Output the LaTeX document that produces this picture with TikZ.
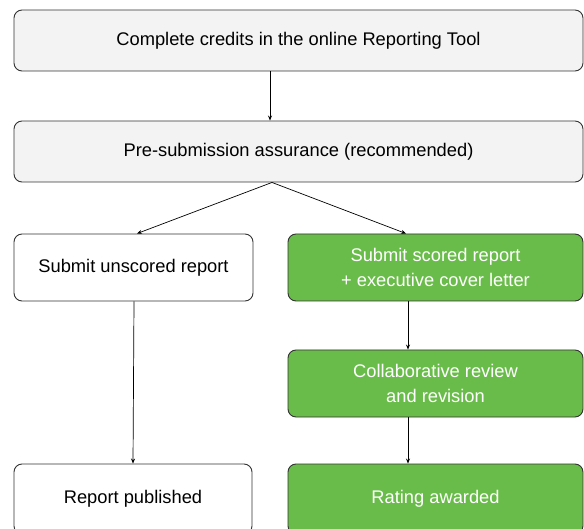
\documentclass[tikz,border=0pt]{standalone}
\usepackage{fontspec}
\setmainfont{Liberation Sans}
\usetikzlibrary{arrows.meta}
\definecolor{boxgray}{HTML}{F3F3F3}
\definecolor{boxgreen}{HTML}{6ABC4A}
\definecolor{edge}{HTML}{333333}
\tikzset{
  box/.style={draw=edge, line width=0.9pt, rounded corners=8pt, align=center, font=\fontsize{18.3}{25}\selectfont, inner sep=0pt},
  graybox/.style={box, fill=boxgray, text=black},
  whitebox/.style={box, fill=white, text=black},
  greenbox/.style={box, fill=boxgreen, text=white},
  conn/.style={draw=black, line width=0.7pt, -{Stealth[length=5pt,width=4pt]}}
}
\begin{document}
\begin{tikzpicture}[x=1pt,y=-1pt]
\useasboundingbox (0,0) rectangle (584,529);
\node[graybox, minimum width=569pt, minimum height=61pt] (a) at (298.5,40.5) {Complete credits in the online Reporting Tool};
\node[graybox, minimum width=569pt, minimum height=61pt] (b) at (298.5,151.5) {Pre-submission assurance (recommended)};
\node[whitebox, minimum width=239pt, minimum height=67pt] (c) at (133.5,267.5) {Submit unscored report};
\node[greenbox, minimum width=295pt, minimum height=67pt] (d) at (435.5,267.5) {Submit scored report\\+ executive cover letter};
\node[greenbox, minimum width=295pt, minimum height=67pt] (e) at (435.5,383.5) {Collaborative review\\and revision};
\node[whitebox, minimum width=238pt, minimum height=70pt] (f) at (133,499) {Report published};
\node[greenbox, minimum width=295pt, minimum height=70pt] (g) at (435.5,499) {Rating awarded};
\draw[conn] (a.south -| 270,0) -- (b.north -| 270,0);
\coordinate (bs) at (b.south -| 272,0);
\draw[conn] (bs) -- (c.north -| 137,0);
\draw[conn] (bs) -- (d.north -| 406,0);
\draw[conn] (c.south -| 134,0) -- (f.north -| 133,0);
\draw[conn] (d.south -| 408,0) -- (e.north -| 408,0);
\draw[conn] (e.south -| 408,0) -- (g.north -| 408,0);
\end{tikzpicture}
\end{document}
